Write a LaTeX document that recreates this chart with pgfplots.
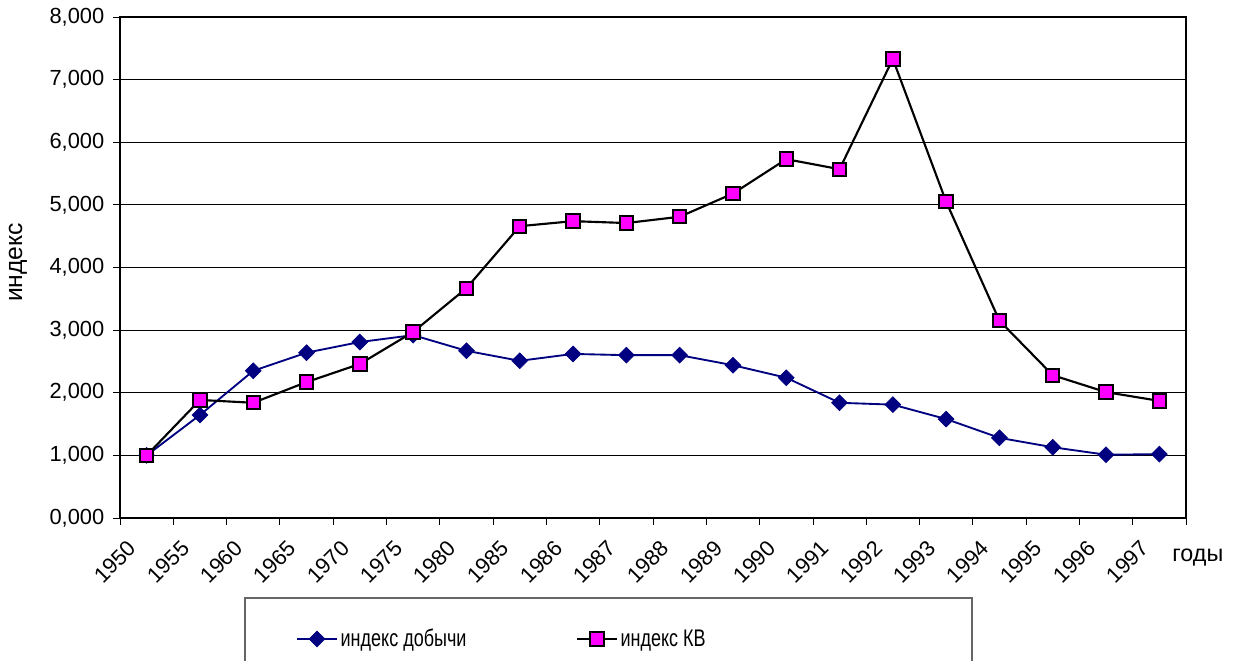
\documentclass[border=0pt]{standalone}
\usepackage{pgfplots}
\pgfplotsset{compat=1.18}
\usepackage{fontspec}
\setmainfont{Liberation Sans}
\newfontfamily\legfont[FakeStretch=0.75]{Liberation Sans}
\definecolor{navyS}{RGB}{0,0,128}
\definecolor{magS}{RGB}{255,0,255}
\begin{document}
\begin{tikzpicture}
\begin{axis}[
  at={(0pt,0pt)}, anchor=south west,
  width=799.5pt, height=375.75pt, scale only axis,
  xmin=-0.5, xmax=19.5, ymin=0, ymax=8,
  xtick={0,...,19},
  xticklabels={1950,1955,1960,1965,1970,1975,1980,1985,1986,1987,1988,1989,1990,1991,1992,1993,1994,1995,1996,1997},
  minor xtick={-0.5,0.5,...,19.5},
  major x tick style={draw=none},
  ytick={0,1,...,8},
  xtick pos=bottom, ytick pos=left,
  tick align=outside,
  major tick length=5.25pt, minor tick length=5.25pt,
  tick style={black, line width=0.6pt},
  ymajorgrids, grid style={black, line width=0.6pt},
  axis line style={black, line width=0.8pt},
  /pgf/number format/assume math mode=true,
  yticklabel={\pgfmathprintnumber[fixed,fixed zerofill,precision=3,use comma]{\tick}},
  ticklabel style={font=\fontsize{16.4}{19}\selectfont},
  xticklabel style={xshift=-15pt, yshift=-9pt, rotate=45, anchor=north east, inner sep=1pt},
  yticklabel style={xshift=-3pt},
  xlabel={годы},
  xlabel style={at={(axis description cs:0.987,-0.079)}, anchor=west, font=\fontsize{17.5}{20}\selectfont, inner sep=0pt},
  ylabel={индекс},
  ylabel style={at={(axis description cs:-0.0957,0.51)}, anchor=center, rotate=0, font=\fontsize{18.5}{22}\selectfont},
  legend columns=2,
  legend style={at={(axis description cs:0.165,-0.2415)}, anchor=west, draw=none, fill=none,
    inner xsep=0pt, inner ysep=0pt, font=\legfont\fontsize{18}{20}\selectfont,
    /tikz/every even column/.append style={column sep=80pt}},
  legend image code/.code={\draw[mark repeat=2,mark phase=2] plot coordinates {(0pt,0pt) (15pt,0pt) (30pt,0pt)};},
  clip=false,
]
\addplot[navyS, line width=1.4pt, mark=square*, mark size=4.2pt,
  mark options={rotate=45, fill=navyS, draw=navyS, line width=0.5pt}]
  coordinates {
  (0,1.000) (1,1.645) (2,2.35) (3,2.64) (4,2.81) (5,2.92) (6,2.67) (7,2.51)
  (8,2.62) (9,2.60) (10,2.60) (11,2.44) (12,2.24) (13,1.84) (14,1.81) (15,1.58)
  (16,1.28) (17,1.13) (18,1.01) (19,1.02)};
\addlegendentry{индекс добычи}
\addplot[black, line width=1.6pt, mark=square*, mark size=5pt,
  mark options={fill=magS, draw=black, line width=1.5pt}]
  coordinates {
  (0,1.000) (1,1.885) (2,1.84) (3,2.17) (4,2.46) (5,2.97) (6,3.67) (7,4.66)
  (8,4.74) (9,4.71) (10,4.81) (11,5.18) (12,5.73) (13,5.57) (14,7.33) (15,5.05)
  (16,3.15) (17,2.28) (18,2.01) (19,1.87)};
\addlegendentry{индекс КВ}
\end{axis}
\draw[black!60, line width=0.8pt] (93.75pt,-140pt) rectangle (639pt,-60pt);
\pgfresetboundingbox
\useasboundingbox (-90pt,-107.25pt) rectangle (834.75pt,388.5pt);
\end{tikzpicture}
\end{document}
